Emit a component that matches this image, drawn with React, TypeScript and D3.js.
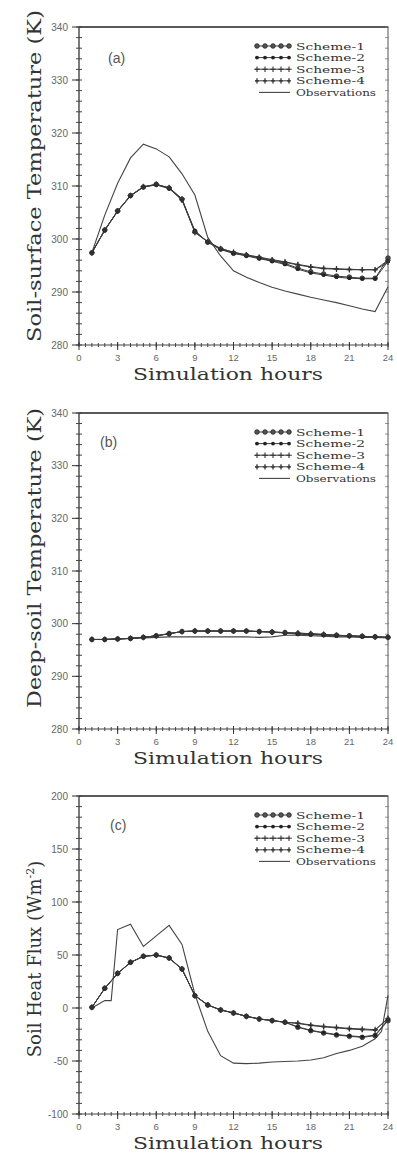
import React from "react";
import * as d3 from "d3";

const HOURS = [1, 2, 3, 4, 5, 6, 7, 8, 9, 10, 11, 12, 13, 14, 15, 16, 17, 18, 19, 20, 21, 22, 23, 24];
const X_TICKS = [0, 3, 6, 9, 12, 15, 18, 21, 24];
const TEMP_TICKS = [280, 290, 300, 310, 320, 330, 340];
const FLUX_TICKS = [-100, -50, 0, 50, 100, 150, 200];
const LEGEND_LABELS = ["Scheme-1", "Scheme-2", "Scheme-3", "Scheme-4", "Observations"];

// (a) soil-surface temperature (K)
const surfS1 = [297.4, 301.7, 305.3, 308.2, 309.8, 310.3, 309.6, 307.5, 301.4, 299.4, 298.1, 297.3, 296.9, 296.4, 295.9, 295.4, 294.5, 293.8, 293.4, 293.0, 292.8, 292.6, 292.6, 296.4];
const surfS2 = [297.4, 301.6, 305.2, 308.1, 309.8, 310.2, 309.5, 307.4, 301.6, 299.4, 298.0, 297.3, 296.8, 296.3, 295.8, 295.2, 294.3, 293.6, 293.2, 292.8, 292.6, 292.5, 292.5, 295.8];
const surfS3 = [297.4, 301.7, 305.3, 308.2, 309.9, 310.3, 309.7, 307.6, 301.2, 299.5, 298.2, 297.5, 297.0, 296.5, 296.0, 295.6, 295.1, 294.7, 294.4, 294.3, 294.2, 294.2, 294.2, 296.0];
const surfS4 = [297.4, 301.7, 305.3, 308.2, 309.8, 310.3, 309.6, 307.3, 301.3, 299.5, 298.2, 297.5, 297.0, 296.6, 296.1, 295.7, 295.2, 294.8, 294.5, 294.4, 294.3, 294.2, 294.2, 295.6];
const surfObs = [297.4, 304.5, 310.5, 315.3, 317.9, 317.0, 315.5, 312.3, 308.3, 300.3, 296.8, 294.0, 292.8, 291.8, 290.9, 290.2, 289.6, 289.0, 288.5, 288.0, 287.4, 286.8, 286.3, 291.0];

// (b) deep-soil temperature (K)
const deepS1 = [297.0, 297.0, 297.1, 297.2, 297.4, 297.7, 298.1, 298.5, 298.6, 298.6, 298.6, 298.6, 298.6, 298.5, 298.4, 298.3, 298.1, 298.0, 297.9, 297.8, 297.7, 297.6, 297.5, 297.4];
const deepS2 = [297.0, 297.0, 297.1, 297.2, 297.4, 297.7, 298.1, 298.5, 298.6, 298.6, 298.6, 298.6, 298.6, 298.5, 298.4, 298.2, 298.0, 297.9, 297.8, 297.7, 297.6, 297.5, 297.5, 297.4];
const deepS3 = [297.0, 297.0, 297.1, 297.2, 297.4, 297.7, 298.1, 298.5, 298.6, 298.6, 298.6, 298.6, 298.6, 298.5, 298.4, 298.3, 298.2, 298.1, 297.9, 297.8, 297.7, 297.6, 297.5, 297.4];
const deepS4 = [297.0, 297.0, 297.1, 297.2, 297.4, 297.7, 298.1, 298.5, 298.6, 298.6, 298.6, 298.6, 298.6, 298.5, 298.4, 298.3, 298.2, 298.1, 298.0, 297.8, 297.7, 297.6, 297.5, 297.4];
const deepObs = [297.0, 297.0, 297.1, 297.2, 297.3, 297.4, 297.5, 297.5, 297.5, 297.5, 297.5, 297.5, 297.5, 297.4, 297.5, 297.8, 297.8, 297.7, 297.6, 297.5, 297.5, 297.4, 297.4, 297.3];

// (c) soil heat flux (W m-2)
const fluxS1 = [0.6, 18.6, 32.7, 43.1, 48.8, 50.0, 47.2, 36.8, 11.6, 2.8, -1.9, -4.7, -7.9, -10.4, -11.9, -13.5, -18.2, -21.4, -23.6, -25.5, -26.7, -27.7, -26.1, -12.0];
const fluxS2 = [0.6, 18.4, 32.5, 43.0, 48.6, 49.8, 47.0, 36.5, 11.8, 2.9, -1.8, -4.6, -7.8, -10.2, -11.8, -13.4, -17.8, -21.0, -23.2, -25.0, -26.2, -27.2, -25.5, -11.0];
const fluxS3 = [0.6, 18.6, 32.7, 43.1, 48.8, 50.0, 47.2, 36.8, 11.6, 2.8, -1.9, -4.7, -7.9, -10.4, -11.9, -13.5, -14.2, -16.0, -17.3, -18.2, -19.2, -19.8, -20.4, -10.4];
const fluxS4 = [0.6, 18.5, 32.6, 43.0, 48.7, 49.9, 47.1, 36.6, 11.7, 2.9, -1.8, -4.6, -7.8, -10.3, -11.8, -13.4, -14.6, -16.5, -17.8, -18.8, -19.8, -20.5, -21.0, -9.5];
const fluxObsHours = [1, 2, 2.5, 3, 4, 5, 6, 7, 8, 9, 10, 11, 12, 13, 14, 15, 16, 17, 18, 19, 20, 21, 22, 23, 23.5, 24];
const fluxObs = [0, 7, 7, 74, 79, 58, 68, 78, 60, 13, -22, -45, -52, -52.5, -52, -51, -50.5, -50, -49, -47, -43, -40, -36, -29, -22, 12];

const X0 = 79;
const X1 = 388;
const INK = "#333";
const LINE = "#3c3c3c";
const TICKTXT = "#666";

type MarkerKind = 0 | 1 | 2 | 3;

function Marker({ kind, cx, cy }: { kind: MarkerKind; cx: number; cy: number }) {
  if (kind === 0) return <circle cx={cx} cy={cy} r={2.3} fill="#555" stroke="#222" strokeWidth={0.8} />;
  if (kind === 1) return <circle cx={cx} cy={cy} r={1.9} fill="#222" />;
  if (kind === 2)
    return (
      <path d={`M${cx - 2.8},${cy}H${cx + 2.8}M${cx},${cy - 2.8}V${cy + 2.8}`} stroke="#333" strokeWidth={1.1} />
    );
  return <path d={`M${cx},${cy - 2.6}V${cy + 2.6}M${cx - 2},${cy}H${cx + 2}`} stroke="#333" strokeWidth={1.3} />;
}

interface PanelProps {
  top: number;
  bottom: number;
  domain: [number, number];
  ticks: number[];
  minor: number;
  schemes: number[][];
  obsX: number[];
  obs: number[];
  letter: string;
  letterX: number;
  letterDy: number;
  title: React.ReactNode;
  titleLen?: number;
  titleCy: number;
}

function Panel(p: PanelProps) {
  const x = d3.scaleLinear().domain([0, 24]).range([X0, X1]);
  const y = d3.scaleLinear().domain(p.domain).range([p.bottom, p.top]);
  const minorY = d3.range(p.domain[0], p.domain[1] + 1e-6, p.minor);
  const minorX = d3.range(0, 24.001, 0.5);
  const line = d3
    .line<[number, number]>()
    .x((d) => x(d[0]))
    .y((d) => y(d[1]));
  const legendTop = p.top + 19;
  const rowH = 11.6;
  return (
    <g>
      <line x1={X0} x2={X1} y1={p.top} y2={p.top} stroke="#222" strokeWidth={1.4} />
      <line x1={X1} x2={X1} y1={p.top} y2={p.bottom} stroke="#555" strokeWidth={1} />
      <line x1={X0} x2={X0} y1={p.top} y2={p.bottom} stroke="#222" strokeWidth={1.2} />
      <line x1={X0} x2={X1} y1={p.bottom} y2={p.bottom} stroke="#444" strokeWidth={1} />
      {minorY.map((v, i) => (
        <g key={"my" + i}>
          <line x1={X0 - 3} x2={X0 + 3} y1={y(v)} y2={y(v)} stroke="#444" strokeWidth={1} />
          <line x1={X1 - 3} x2={X1 + 1} y1={y(v)} y2={y(v)} stroke="#777" strokeWidth={0.8} />
        </g>
      ))}
      {p.ticks.map((v) => (
        <g key={"ty" + v}>
          <line x1={X0 - 7} x2={X0} y1={y(v)} y2={y(v)} stroke="#333" strokeWidth={1} />
          <text
            x={68}
            y={y(v) + 3.5}
            textAnchor="end"
            fontFamily="Liberation Sans, Arial, sans-serif"
            fontSize={10}
            fill={TICKTXT}
          >
            {v}
          </text>
        </g>
      ))}
      {minorX.map((v, i) => (
        <line key={"mx" + i} x1={x(v)} x2={x(v)} y1={p.bottom - 2} y2={p.bottom + 2} stroke="#444" strokeWidth={1} />
      ))}
      {X_TICKS.map((v) => (
        <g key={"tx" + v}>
          <line x1={x(v)} x2={x(v)} y1={p.bottom - 3} y2={p.bottom + 5} stroke="#333" strokeWidth={1} />
          <text
            x={x(v)}
            y={p.bottom + 16}
            textAnchor="middle"
            fontFamily="Liberation Sans, Arial, sans-serif"
            fontSize={9.5}
            fill={TICKTXT}
          >
            {v}
          </text>
        </g>
      ))}
      <path
        d={line(p.obsX.map((h, i) => [h, p.obs[i]] as [number, number])) || ""}
        fill="none"
        stroke="#444"
        strokeWidth={1.1}
      />
      {p.schemes.map((s, k) => (
        <path
          key={"sl" + k}
          d={line(HOURS.map((h, i) => [h, s[i]] as [number, number])) || ""}
          fill="none"
          stroke={LINE}
          strokeWidth={1}
        />
      ))}
      {p.schemes.map((s, k) =>
        HOURS.map((h, i) => <Marker key={"m" + k + "_" + i} kind={k as MarkerKind} cx={x(h)} cy={y(s[i])} />)
      )}
      <text
        x={p.letterX}
        y={p.top + p.letterDy}
        fontFamily="Liberation Sans, Arial, sans-serif"
        fontSize={14}
        fill="#555"
      >
        {p.letter}
      </text>
      {LEGEND_LABELS.map((lab, i) => {
        const ly = legendTop + i * rowH;
        return (
          <g key={"lg" + i}>
            {i < 4 ? (
              <>
                <line x1={255} x2={290} y1={ly} y2={ly} stroke={LINE} strokeWidth={1} />
                {[257, 265, 273, 281, 289].map((mx) => (
                  <Marker key={mx} kind={i as MarkerKind} cx={mx} cy={ly} />
                ))}
              </>
            ) : (
              <line x1={259} x2={290} y1={ly} y2={ly} stroke="#444" strokeWidth={1.1} />
            )}
            <text
              x={296}
              y={ly + 3.6}
              fontFamily="DejaVu Serif, serif"
              fontSize={10}
              fill={INK}
              textLength={i < 4 ? 69 : 80}
              lengthAdjust="spacingAndGlyphs"
            >
              {lab}
            </text>
          </g>
        );
      })}
      <text
        x={228}
        y={p.bottom + 35}
        textAnchor="middle"
        fontFamily="DejaVu Serif, serif"
        fontSize={17}
        fill={INK}
        textLength={190}
        lengthAdjust="spacingAndGlyphs"
      >
        Simulation hours
      </text>
      <text
        transform={`translate(35,${p.titleCy}) rotate(-90)`}
        textAnchor="middle"
        dy="0.35em"
        fontFamily="DejaVu Serif, serif"
        fontSize={18}
        fill={INK}
        textLength={p.titleLen}
        lengthAdjust={p.titleLen ? "spacingAndGlyphs" : undefined}
      >
        {p.title}
      </text>
    </g>
  );
}

export default function App() {
  return (
    <svg
      width={397}
      height={1153}
      viewBox="0 0 397 1153"
      style={{ position: "absolute", left: 0, top: 0, background: "#fff" }}
    >
      <rect x={0} y={0} width={397} height={1153} fill="#fff" />
      <Panel
        top={27}
        bottom={345}
        domain={[280, 340]}
        ticks={TEMP_TICKS}
        minor={2}
        schemes={[surfS1, surfS2, surfS3, surfS4]}
        obsX={HOURS}
        obs={surfObs}
        letter="(a)"
        letterX={108}
        letterDy={36}
        title="Soil-surface Temperature (K)"
        titleLen={332}
        titleCy={176}
      />
      <Panel
        top={413}
        bottom={729}
        domain={[280, 340]}
        ticks={TEMP_TICKS}
        minor={2}
        schemes={[deepS1, deepS2, deepS3, deepS4]}
        obsX={HOURS}
        obs={deepObs}
        letter="(b)"
        letterX={100}
        letterDy={34}
        title="Deep-soil Temperature (K)"
        titleLen={300}
        titleCy={558}
      />
      <Panel
        top={796}
        bottom={1114}
        domain={[-100, 200]}
        ticks={FLUX_TICKS}
        minor={10}
        schemes={[fluxS1, fluxS2, fluxS3, fluxS4]}
        obsX={fluxObsHours}
        obs={fluxObs}
        letter="(c)"
        letterX={110}
        letterDy={34}
        title={
          <>
            Soil Heat Flux (Wm
            <tspan fontSize={11} dy="-0.7em">
              -2
            </tspan>
            <tspan dy="0.45em">)</tspan>
          </>
        }
        titleCy={959}
      />
    </svg>
  );
}
